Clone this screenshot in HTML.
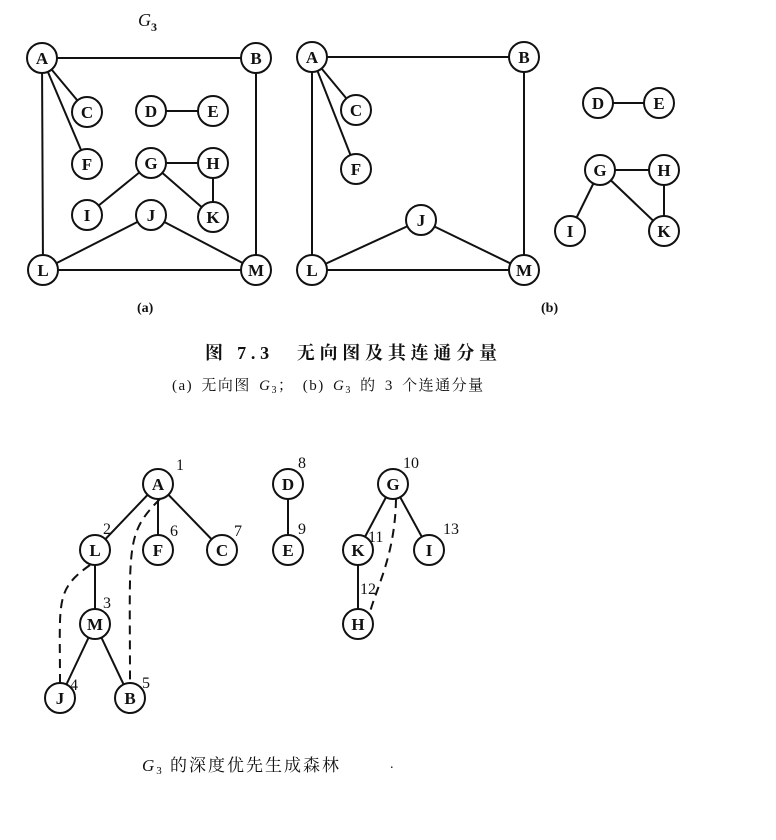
<!DOCTYPE html>
<html><head><meta charset="utf-8">
<style>
html,body{margin:0;padding:0;background:#fff;}
svg{display:block;}
text{font-family:"Liberation Serif","Noto Serif CJK SC",serif;fill:#111;}
.zh{font-family:"Liberation Serif","Noto Serif CJK SC","Noto Sans CJK SC",serif;}
</style></head>
<body>
<svg id="fig" width="776" height="840" viewBox="0 0 776 840" xmlns="http://www.w3.org/2000/svg">
<g id="edges" stroke="#111" stroke-width="2" fill="none"></g>
<g id="nodes"></g>
<text x="138" y="26" font-size="18" font-style="italic">G<tspan font-size="12" dy="5" font-style="normal" font-weight="bold">3</tspan></text>
<text x="137" y="312" font-size="14" font-weight="bold">(a)</text>
<text x="541" y="312" font-size="14" font-weight="bold">(b)</text>
<text class="zh" x="205" y="359" font-size="18" font-weight="bold" textLength="292" lengthAdjust="spacing">图 7.3　无向图及其连通分量</text>
<text class="zh" x="172" y="390" font-size="15" word-spacing="3" letter-spacing="1.5">(a) 无向图 <tspan font-style="italic">G</tspan><tspan font-size="10" dy="3">3</tspan><tspan dy="-3">； (b) </tspan><tspan font-style="italic">G</tspan><tspan font-size="10" dy="3">3</tspan><tspan dy="-3"> 的 3 个连通分量</tspan></text>
<text class="zh" x="142" y="771" font-size="17" letter-spacing="2"><tspan font-style="italic">G</tspan><tspan font-size="11" dy="3">3</tspan><tspan dy="-3"> 的深度优先生成森林</tspan></text>
<text x="390" y="768" font-size="14">.</text>
</svg>
<script>
const nodesA = [["A",42,58],["B",256,58],["C",87,112],["D",151,111],["E",213,111],["F",87,164],["G",151,163],["H",213,163],["I",87,215],["J",151,215],["K",213,217],["L",43,270],["M",256,270]];
const edgesA = [["A","B"],["A","C"],["A","F"],["A","L"],["B","M"],["D","E"],["G","H"],["G","I"],["G","K"],["H","K"],["J","L"],["J","M"],["L","M"]];
const nodesB = [["A",312,57],["B",524,57],["C",356,110],["F",356,169],["J",421,220],["L",312,270],["M",524,270],["D",598,103],["E",659,103],["G",600,170],["H",664,170],["I",570,231],["K",664,231]];
const edgesB = edgesA;
const nodesC = [["A",158,484],["L",95,550],["F",158,550],["C",222,550],["M",95,624],["J",60,698],["B",130,698],["D",288,484],["E",288,550],["G",393,484],["K",358,550],["I",429,550],["H",358,624]];
const edgesC = [["A","L"],["A","F"],["A","C"],["L","M"],["M","J"],["M","B"],["D","E"],["G","K"],["G","I"],["K","H"]];
const dashedC = [["L","J"],["A","B"],["G","H"]];
const orderLabels = [["A","1",18,-14],["L","2",8,-16],["M","3",8,-16],["J","4",10,-8],["B","5",12,-10],["F","6",12,-14],["C","7",12,-14],["D","8",10,-16],["E","9",10,-16],["G","10",10,-16],["K","11",10,-8],["H","12",2,-30],["I","13",14,-16]];
const R = 15;
const SVGNS="http://www.w3.org/2000/svg";
const eg=document.getElementById('edges'), ng=document.getElementById('nodes');
function mk(t,a){const e=document.createElementNS(SVGNS,t);for(const k in a)e.setAttribute(k,a[k]);return e;}
function drawGraph(nodes,edges,tag){
  const pos={};nodes.forEach(n=>pos[n[0]]=[n[1],n[2]]);
  edges.forEach(e=>{const p=pos[e[0]],q=pos[e[1]];if(!p||!q)return;
    const l=mk('line',{x1:p[0],y1:p[1],x2:q[0],y2:q[1]});
    
    
    eg.appendChild(l);});
  nodes.forEach(n=>{
    const g=mk('g',{});
    
    
    g.appendChild(mk('circle',{cx:n[1],cy:n[2],r:R,fill:'#fff',stroke:'#111','stroke-width':2}));
    const t=mk('text',{x:n[1],y:n[2]+6,'text-anchor':'middle','font-size':17,'font-weight':'bold'});
    t.textContent=n[0];g.appendChild(t);ng.appendChild(g);});
  return pos;
}
drawGraph(nodesA,edgesA,'a');
drawGraph(nodesB,edgesB,'b');
const pc=drawGraph(nodesC,edgesC,'forest');
dashedC.forEach(d=>{const p=pc[d[0]],q=pc[d[1]];
  let dd;
  if(d[0]==='L'){dd=`M${p[0]-5},${p[1]+15} C${q[0]-5},${p[1]+40} ${q[0]},${p[1]+50} ${q[0]},${q[1]-15}`;}
  else if(d[0]==='A'){dd=`M${p[0]+2},${p[1]+15} C${q[0]-5},${p[1]+50} ${q[0]},${p[1]+60} ${q[0]},${q[1]-15}`;}
  else {dd=`M${p[0]+3},${p[1]+15} C${p[0]+2},${p[1]+70} ${q[0]+20},${q[1]-40} ${q[0]+12},${q[1]-12}`;}
  const path=mk('path',{d:dd,'stroke-dasharray':'9,6'});
  
  
  eg.appendChild(path);});
orderLabels.forEach(o=>{const p=pc[o[0]];
  const t=mk('text',{x:p[0]+o[2],y:p[1]+o[3],'font-size':16});
  t.textContent=o[1];
  
  
  ng.appendChild(t);});
</script>
</body></html>
